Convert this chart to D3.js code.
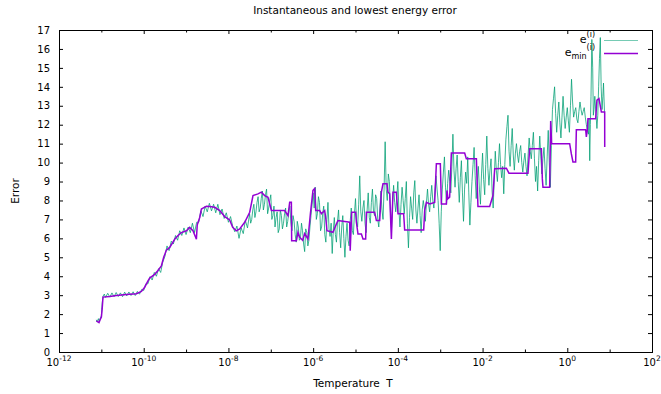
<!DOCTYPE html>
<html><head><meta charset="utf-8">
<script src="https://cdn.jsdelivr.net/npm/d3@7"></script>
<style>body{margin:0;background:#fff}svg text{font-family:"DejaVu Sans",sans-serif;fill:#000;white-space:pre}</style>
</head><body><svg id="c" width="661" height="394"></svg>
<script>
const titleText = "Instantaneous and lowest energy error";
const xLabelText = "Temperature  T";
const yLabelText = "Error";
const xMajorExponents = [-12, -10, -8, -6, -4, -2, 0, 2];
const xMinorExponents = [-11, -9, -7, -5, -3, -1, 1];
const yTickValues = [0,1,2,3,4,5,6,7,8,9,10,11,12,13,14,15,16,17];

// [log10(T), error] instantaneous e^(i)
const instantaneous = [
[-11.12,1.7],[-11.10,1.58],[-11.07,1.76],[-11.05,1.6],[-11.02,1.82],[-11.00,1.9],[-10.98,2.6],[-10.96,2.95],[-10.93,3.06],[-10.90,2.88],
[-10.85,3.1],[-10.80,2.9],[-10.75,3.12],[-10.70,2.92],[-10.65,3.14],[-10.60,2.93],[-10.55,3.12],[-10.50,2.92],[-10.45,3.16],[-10.40,2.96],
[-10.35,3.17],[-10.30,2.98],[-10.25,3.18],[-10.20,2.98],[-10.15,3.2],[-10.10,3.05],[-10.05,3.3],[-10.00,3.25],[-9.95,3.6],[-9.90,3.6],
[-9.85,3.98],[-9.80,3.8],[-9.75,4.2],[-9.70,4.0],[-9.65,4.4],[-9.60,4.2],[-9.55,4.75],[-9.50,5.05],[-9.45,5.6],[-9.40,5.35],
[-9.35,5.85],[-9.30,5.7],[-9.25,6.15],[-9.20,5.9],[-9.15,6.4],[-9.10,6.15],[-9.05,6.55],[-9.00,6.2],[-8.95,6.6],[-8.90,6.3],
[-8.85,6.8],[-8.80,6.3],[-8.75,6.85],[-8.70,6.85],[-8.65,7.45],[-8.60,7.15],[-8.55,7.7],[-8.50,7.4],[-8.45,7.85],[-8.40,7.45],
[-8.35,7.8],[-8.30,7.35],[-8.25,7.8],[-8.20,7.25],[-8.15,7.55],[-8.10,7.05],[-8.05,7.35],[-8.00,6.85],[-7.95,7.15],[-7.90,6.65],
[-7.85,6.35],[-7.80,6.65],[-7.75,6.0],[-7.70,6.55],[-7.65,6.25],[-7.60,6.95],[-7.55,6.55],
[-7.500,7.3],[-7.475,6.8],[-7.450,7.0],[-7.425,7.5],[-7.400,7.8],[-7.375,7.1],[-7.350,7.4],[-7.325,7.9],[-7.300,8.2],[-7.275,7.4],
[-7.250,7.6],[-7.225,8.1],[-7.200,8.5],[-7.175,7.5],[-7.150,7.8],[-7.125,8.3],[-7.100,8.6],[-7.075,7.3],[-7.050,7.6],[-7.025,8.0],
[-7.000,8.3],[-6.975,7.0],[-6.950,7.2],[-6.925,7.7],[-6.900,6.6],[-6.875,7.1],[-6.850,7.4],[-6.825,6.3],[-6.800,6.5],[-6.775,7.5],
[-6.750,7.2],[-6.725,6.5],[-6.700,6.8],[-6.675,7.3],[-6.650,7.6],[-6.625,6.6],[-6.600,6.9],[-6.575,7.4],[-6.550,7.7],[-6.525,6.8],
[-6.500,6.4],[-6.475,7.2],[-6.450,6.9],[-6.425,6.2],[-6.400,5.8],[-6.375,6.9],[-6.350,6.6],[-6.325,5.9],[-6.300,6.0],[-6.275,6.8],
[-6.250,6.4],[-6.225,5.7],[-6.200,5.3],[-6.175,6.5],[-6.150,6.3],[-6.125,5.6],[-6.100,5.9],[-6.075,6.6],[-6.050,7.2],[-6.025,7.8],
[-6.000,8.4],[-5.975,7.6],[-5.950,8.7],[-5.925,7.0],[-5.900,7.3],[-5.875,8.2],[-5.850,7.9],[-5.825,6.4],[-5.800,6.6],[-5.775,7.3],
[-5.750,7.7],[-5.725,6.2],[-5.700,5.8],[-5.675,7.0],[-5.650,7.9],[-5.625,6.5],[-5.600,6.1],[-5.575,6.8],[-5.550,5.2],[-5.525,6.4],
[-5.500,7.1],[-5.475,6.2],[-5.450,5.8],[-5.425,6.9],[-5.400,7.5],[-5.375,6.3],[-5.350,5.5],[-5.325,6.6],[-5.300,7.2],[-5.275,6.0],
[-5.250,5.0],[-5.225,6.1],[-5.200,6.8],[-5.175,5.9],[-5.150,5.6],[-5.125,6.9],[-5.100,7.6],[-5.075,6.4],[-5.050,6.2],[-5.025,7.3],
[-5.000,8.1],[-4.975,6.9],[-4.950,6.6],[-4.925,7.8],[-4.900,9.3],[-4.875,7.4],[-4.850,6.9],[-4.825,7.6],[-4.800,8.0],[-4.775,6.8],
[-4.750,6.3],[-4.725,7.5],[-4.700,8.4],[-4.675,7.1],[-4.650,6.8],[-4.625,7.9],[-4.600,8.6],[-4.575,7.4],[-4.550,7.2],[-4.525,8.3],
[-4.500,8.1],[-4.475,7.0],[-4.450,6.6],[-4.425,7.6],[-4.400,8.5],[-4.375,7.5],[-4.350,7.0],[-4.325,8.6],[-4.300,11.1],[-4.275,8.6],
[-4.250,8.0],[-4.225,9.4],[-4.200,9.0],[-4.175,7.4],[-4.150,6.5],[-4.125,7.9],[-4.100,8.8],[-4.075,7.9],[-4.050,7.4],[-4.025,8.2],
[-4.000,9.0],[-3.975,7.5],[-3.950,6.6],[-3.925,7.8],[-3.900,8.7],[-3.875,8.0],[-3.850,7.3],[-3.825,8.1],[-3.800,9.0],[-3.775,6.8],
[-3.750,5.5],[-3.725,7.1],[-3.700,8.2],[-3.675,7.6],[-3.650,7.0],[-3.625,8.4],[-3.600,9.05],[-3.575,7.5],[-3.550,6.8],[-3.525,7.6],
[-3.500,8.3],[-3.475,7.2],[-3.450,6.3],[-3.425,7.5],[-3.400,8.0],[-3.375,7.6],[-3.350,6.9],[-3.325,7.9],[-3.300,8.6],[-3.275,7.8],
[-3.250,7.4],[-3.225,8.2],[-3.200,8.8],[-3.175,8.0],[-3.150,7.6],[-3.125,8.5],[-3.100,9.3],[-3.075,8.6],[-3.050,8.0],[-3.025,6.8],
[-3.000,5.35],[-2.975,7.4],[-2.950,8.6],[-2.925,9.5],[-2.900,10.3],[-2.875,8.7],[-2.850,7.8],[-2.825,8.9],[-2.800,9.6],[-2.775,9.0],
[-2.750,8.4],[-2.725,9.8],[-2.700,11.5],[-2.675,9.6],[-2.650,8.7],[-2.625,9.7],[-2.600,10.4],[-2.575,9.0],[-2.550,7.9],[-2.525,9.2],
[-2.500,10.1],[-2.475,8.4],[-2.450,6.9],[-2.425,8.6],[-2.400,9.5],[-2.375,8.9],[-2.350,10.3],[-2.325,8.4],[-2.300,6.7],[-2.275,7.9],
[-2.250,9.0],[-2.225,9.9],[-2.200,10.8],[-2.175,9.3],[-2.150,8.1],[-2.125,9.0],[-2.100,9.8],[-2.075,8.6],[-2.050,7.8],[-2.025,9.4],
[-2.000,10.5],[-1.975,9.1],[-1.950,8.3],[-1.925,9.9],[-1.900,11.4],[-1.875,9.7],[-1.850,8.8],[-1.825,9.6],[-1.800,10.2],[-1.775,8.5],
[-1.750,7.6],[-1.725,9.1],[-1.700,10.6],[-1.675,9.6],[-1.650,9.0],[-1.625,10.0],[-1.600,11.0],[-1.575,9.9],[-1.550,9.2],[-1.525,9.8],
[-1.500,8.35],[-1.475,9.9],[-1.450,11.2],[-1.425,11.9],[-1.400,12.5],[-1.375,10.6],[-1.350,9.8],[-1.325,10.9],[-1.300,11.8],[-1.275,10.4],
[-1.250,9.6],[-1.225,10.5],[-1.200,11.0],[-1.175,10.4],[-1.150,10.0],[-1.125,10.6],[-1.100,10.9],[-1.075,10.0],[-1.050,9.5],[-1.025,10.1],
[-1.000,10.5],[-0.975,9.8],[-0.950,9.3],[-0.925,10.4],[-0.900,11.3],[-0.875,10.6],[-0.850,10.2],[-0.825,10.9],[-0.800,11.6],[-0.775,10.2],
[-0.750,9.0],[-0.725,9.8],[-0.700,8.5],[-0.675,10.1],[-0.650,11.4],[-0.625,10.3],[-0.600,9.4],[-0.575,10.2],[-0.550,10.8],[-0.525,9.7],
[-0.500,8.8],[-0.475,10.3],[-0.450,11.7],[-0.425,10.0],[-0.400,8.7],[-0.375,10.9],[-0.350,12.8],[-0.325,13.4],[-0.300,14.0],[-0.275,12.6],
[-0.250,11.6],[-0.225,12.5],[-0.200,13.2],[-0.175,12.1],[-0.150,11.3],[-0.125,12.4],[-0.100,13.5],[-0.075,12.5],[-0.050,11.8],[-0.025,12.4],
[0.000,12.9],[0.025,12.2],[0.050,11.6],[0.075,13.0],[0.100,14.4],[0.125,13.2],[0.150,12.4],[0.175,12.7],[0.200,12.9],[0.225,12.3],
[0.250,12.1],[0.275,12.7],[0.300,13.2],[0.325,12.8],[0.350,12.5],[0.375,12.7],[0.400,12.9],[0.425,12.4],[0.450,12.0],[0.475,11.7],
[0.500,11.5],[0.515,12.3],[0.530,10.1],[0.545,12.0],[0.560,13.5],[0.580,16.5],[0.600,15.0],[0.615,12.5],[0.630,12.8],[0.650,13.5],
[0.675,12.6],[0.700,11.8],[0.720,12.5],[0.740,14.0],[0.760,15.5],[0.780,16.6],[0.800,14.0],[0.820,12.8],[0.840,13.5],[0.855,14.2],
[0.870,13.2],[0.880,12.6]
];

// [log10(T), error] lowest e_min^(i)
const lowest = [
[-11.117,1.64],[-11.056,1.55],[-11.027,1.72],[-10.999,1.85],[-10.98,2.3],[-10.961,2.9],[-10.803,2.93],[-10.645,2.98],[-10.409,3.03],[-10.173,3.08],
[-10.055,3.2],[-9.977,3.42],[-9.899,3.75],[-9.859,3.9],[-9.741,4.1],[-9.663,4.3],[-9.583,4.55],[-9.528,5.0],[-9.465,5.38],[-9.387,5.52],
[-9.269,5.95],[-9.191,6.15],[-9.11,6.3],[-8.992,6.4],[-8.915,6.58],[-8.837,6.4],[-8.756,5.95],[-8.737,6.7],[-8.678,7.1],[-8.638,7.55],
[-8.52,7.7],[-8.442,7.68],[-8.324,7.64],[-8.206,7.47],[-8.088,7.15],[-7.97,6.97],[-7.9,6.58],[-7.812,6.4],[-7.734,6.5],[-7.616,6.85],
[-7.498,7.38],[-7.42,8.26],[-7.302,8.35],[-7.222,8.44],[-7.144,8.26],[-7.066,8.17],[-6.986,7.47],[-6.672,7.47],[-6.594,7.2],[-6.554,7.9],
[-6.514,7.9],[-6.507,5.88],[-6.396,5.88],[-6.358,6.32],[-6.318,6.05],[-6.247,5.9],[-6.2,6.25],[-6.122,5.97],[-6.065,7.3],[-6.004,8.53],
[-5.964,8.63],[-5.94,7.47],[-5.846,7.47],[-5.806,7.3],[-5.728,7.47],[-5.704,7.11],[-5.673,6.4],[-5.532,6.32],[-5.451,6.76],[-5.414,6.94],
[-5.137,6.85],[-5.125,5.35],[-5.09,7.38],[-4.996,7.38],[-4.979,6.85],[-4.941,6.23],[-4.861,6.23],[-4.823,5.97],[-4.76,5.97],[-4.743,7.38],
[-4.547,7.38],[-4.507,6.94],[-4.429,6.94],[-4.389,8.44],[-4.351,8.88],[-4.257,8.88],[-4.233,8.44],[-4.193,8.35],[-4.153,5.97],[-4.115,8.44],
[-4.035,8.44],[-3.997,7.3],[-3.863,7.3],[-3.839,6.44],[-3.39,6.44],[-3.367,7.47],[-3.327,7.9],[-3.249,7.82],[-3.131,7.9],[-3.091,9.94],
[-2.997,9.94],[-2.973,7.82],[-2.855,7.82],[-2.84,8.53],[-2.817,8.09],[-2.777,8.17],[-2.737,10.5],[-2.423,10.5],[-2.383,10.2],[-2.146,10.2],
[-2.109,7.68],[-1.833,7.68],[-1.755,8.26],[-1.714,9.67],[-1.438,9.7],[-1.377,9.44],[-0.928,9.44],[-0.888,10.73],[-0.612,10.73],[-0.589,9.14],
[-0.574,8.7],[-0.416,8.7],[-0.392,12.2],[-0.369,11.0],[0.056,11.0],[0.096,10.46],[0.134,10.03],[0.198,10.03],[0.214,11.74],[0.434,11.74],
[0.45,11.35],[0.474,11.74],[0.488,12.32],[0.67,12.32],[0.7,13.3],[0.748,13.38],[0.805,12.67],[0.883,12.67],[0.884,10.82]
];

const greenColor = "#009e73";
const purpleColor = "#9400d3";

const svg = d3.select("#c");
const L = 59, R = 652, T = 30, B = 352;
const x = d3.scaleLog().domain([1e-12, 1e2]).range([L, R]);
const y = d3.scaleLinear().domain([0, 17]).range([B, T]);
const pow = e => Math.pow(10, e);

svg.append("defs").append("clipPath").attr("id", "clip")
  .append("rect").attr("x", L).attr("y", T).attr("width", R - L).attr("height", B - T);

const line = d3.line().x(d => x(pow(d[0]))).y(d => y(d[1]));

const plot = svg.append("g").attr("clip-path", "url(#clip)");
plot.append("path").datum(instantaneous).attr("d", line)
  .attr("fill", "none").attr("stroke", greenColor).attr("stroke-width", 0.9).attr("stroke-opacity", 0.85);
plot.append("path").datum(lowest).attr("d", line)
  .attr("fill", "none").attr("stroke", purpleColor).attr("stroke-width", 1.5).attr("stroke-linejoin", "miter");

// border
svg.append("rect").attr("x", L + 0.5).attr("y", T + 0.5).attr("width", R - L).attr("height", B - T)
  .attr("fill", "none").attr("stroke", "#000").attr("stroke-width", 1);

function styleAxis(g) {
  g.select(".domain").remove();
  g.selectAll(".tick line").attr("stroke", "#000");
}
const majors = xMajorExponents.map(pow), minors = xMinorExponents.map(pow);
svg.append("g").attr("transform", `translate(0,${B})`)
  .call(d3.axisBottom(x).tickValues(majors).tickSize(-4).tickFormat(() => "")).call(styleAxis);
svg.append("g").attr("transform", `translate(0,${B})`)
  .call(d3.axisBottom(x).tickValues(minors).tickSize(-2.5).tickFormat(() => "")).call(styleAxis);
svg.append("g").attr("transform", `translate(0,${T})`)
  .call(d3.axisTop(x).tickValues(majors).tickSize(-4).tickFormat(() => "")).call(styleAxis);
svg.append("g").attr("transform", `translate(0,${T})`)
  .call(d3.axisTop(x).tickValues(minors).tickSize(-2.5).tickFormat(() => "")).call(styleAxis);
const yl = svg.append("g").attr("transform", `translate(${L},0)`)
  .call(d3.axisLeft(y).tickValues(yTickValues).tickSize(-4).tickPadding(9).tickFormat(d3.format("d"))).call(styleAxis);
yl.selectAll("text").attr("font-size", 10).attr("font-family", "DejaVu Sans").attr("fill", "#000");
svg.append("g").attr("transform", `translate(${R},0)`)
  .call(d3.axisRight(y).tickValues(yTickValues).tickSize(-4).tickFormat(() => "")).call(styleAxis);

// x tick labels with superscript exponent
xMajorExponents.forEach(e => {
  const t = svg.append("text").attr("x", x(pow(e))).attr("y", 366).attr("text-anchor", "middle").attr("font-size", 10);
  t.append("tspan").text("10");
  t.append("tspan").attr("dy", -5).attr("font-size", 7.5).text(String(e));
});

// titles
svg.append("text").attr("x", 355).attr("y", 14).attr("text-anchor", "middle").attr("font-size", 10.5).text(titleText);
svg.append("text").attr("x", 353).attr("y", 387).attr("text-anchor", "middle").attr("font-size", 10.5).text(xLabelText);
svg.append("text").attr("transform", "translate(19,191) rotate(-90)").attr("text-anchor", "middle").attr("font-size", 10.5).text(yLabelText);

// legend
const lg = svg.append("g");
const t1 = lg.append("text").attr("x", 595).attr("y", 43).attr("text-anchor", "end").attr("font-size", 11);
t1.append("tspan").text("e");
t1.append("tspan").attr("dy", -6.5).attr("font-size", 8).text("(i)");
lg.append("line").attr("x1", 604).attr("x2", 638).attr("y1", 40.5).attr("y2", 40.5)
  .attr("stroke", greenColor).attr("stroke-width", 0.9).attr("stroke-opacity", 0.6);
const t2 = lg.append("text").attr("x", 595).attr("y", 56).attr("text-anchor", "end").attr("font-size", 11);
t2.append("tspan").text("e");
t2.append("tspan").attr("dy", 3).attr("font-size", 8).text("min");
t2.append("tspan").attr("dy", -9.5).attr("font-size", 8).text("(i)");
lg.append("line").attr("x1", 604).attr("x2", 638).attr("y1", 53.5).attr("y2", 53.5)
  .attr("stroke", purpleColor).attr("stroke-width", 1.5);
</script></body></html>
